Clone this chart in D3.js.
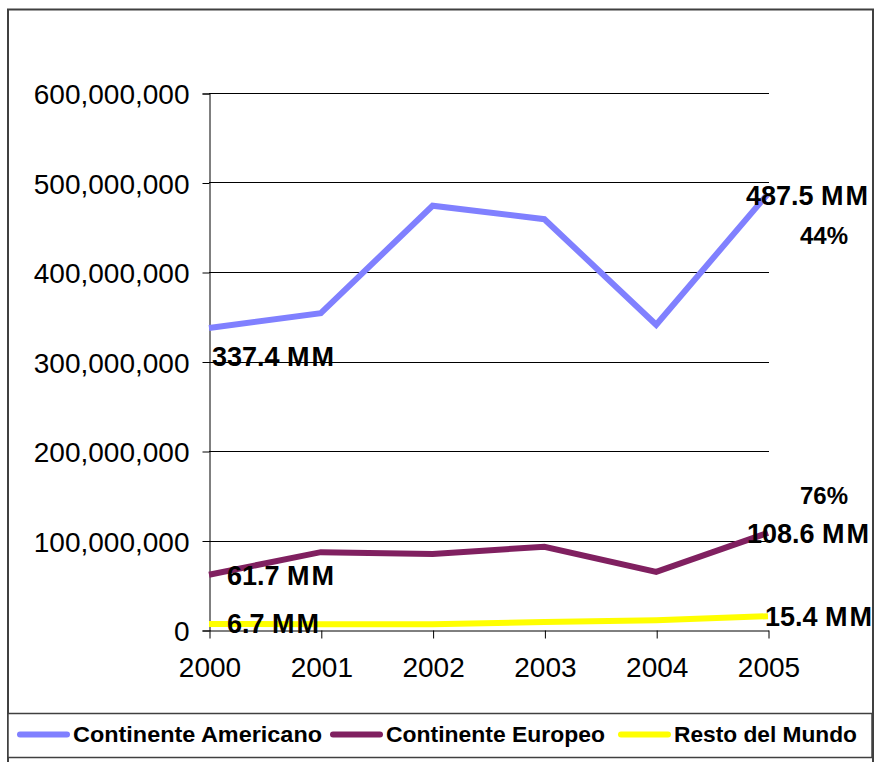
<!DOCTYPE html>
<html><head><meta charset="utf-8">
<script src="https://cdn.jsdelivr.net/npm/d3@7"></script>
<style>html,body{margin:0;padding:0;background:#fff;}svg{display:block;font-family:"Liberation Sans",Arial,sans-serif;}</style>
</head><body>
<svg id="c" width="874" height="762"></svg>
<script>
const years = ["2000","2001","2002","2003","2004","2005"];
const americano = [337.4, 354, 474, 459, 341, 487.5];
const europeo   = [61.7, 87, 85, 93, 65, 108.6];
const resto     = [6.7, 6.5, 6.5, 9, 11, 15.4];
const seriesNames = ["Continente Americano","Continente Europeo","Resto del Mundo"];
const seriesColors = ["#8080FF","#802060","#FFFF00"];
const yTicks = [0,100,200,300,400,500,600];
const startLabels = ["337.4 MM","61.7 MM","6.7 MM"];
const endLabels = ["487.5 MM","108.6 MM","15.4 MM"];
const pctLabels = ["44%","76%"];

const svg = d3.select("#c");
const x = d3.scalePoint().domain(years).range([209, 768]);
const y = d3.scaleLinear().domain([0, 600]).range([630, 93]);

// outer border
svg.append("rect").attr("x",8).attr("y",9.5).attr("width",865).attr("height",770)
  .attr("fill","none").attr("stroke","#404040").attr("stroke-width",2);

// gridlines
svg.append("g").selectAll("line").data(yTicks.filter(d=>d>0)).join("line")
  .attr("x1",209).attr("x2",769).attr("y1",d=>Math.round(y(d))+0.5).attr("y2",d=>Math.round(y(d))+0.5)
  .attr("stroke","#000").attr("stroke-width",1);

// y axis
const yAxis = d3.axisLeft(y).tickValues(yTicks).tickSize(7).tickPadding(13)
  .tickFormat(d => d3.format(",")(d*1000000));
const ga = svg.append("g").attr("transform","translate(209.5,0.5)").call(yAxis);
ga.select(".domain").attr("stroke","#000");
ga.selectAll(".tick line").attr("stroke","#000");
ga.selectAll("text").attr("font-size",28).attr("fill","#000").attr("font-family","Liberation Sans, Arial, sans-serif").attr("dy","0.36em");

// x axis
const xAxis = d3.axisBottom(x).tickSize(8).tickPadding(18).tickSizeOuter(0);
const gx = svg.append("g").attr("transform","translate(0.5,630.5)").call(xAxis);
gx.select(".domain").attr("stroke","#000");
gx.selectAll(".tick line").attr("stroke","#000");
gx.selectAll("text").attr("font-size",28).attr("fill","#000").attr("font-family","Liberation Sans, Arial, sans-serif").attr("dy","0.72em");

// lines
const allSeries = [americano, europeo, resto];
const line = d3.line().x((d,i)=>x(years[i])).y(d=>y(d));
allSeries.forEach((s,k)=>{
  svg.append("path").datum(s).attr("d",line).attr("fill","none")
    .attr("stroke",seriesColors[k]).attr("stroke-width",6).attr("stroke-linejoin","miter");
});

// data labels (second M slightly spaced as in the original)
const lbl = (txt, xx, yy) => {
  const t = svg.append("text").attr("x",xx).attr("y",yy)
    .attr("font-size",27).attr("font-weight","bold").attr("fill","#000");
  t.append("tspan").text(txt.slice(0,-1));
  t.append("tspan").attr("dx",2).text(txt.slice(-1));
};
lbl(startLabels[0], x(years[0])+3, 366);
lbl(startLabels[1], x(years[0])+18, 585);
lbl(startLabels[2], x(years[0])+18, 633);
lbl(endLabels[0], x(years[5])-22, 205);
lbl(endLabels[1], x(years[5])-21, 543);
lbl(endLabels[2], x(years[5])-3, 626);
const pct = (txt, xx, yy) => svg.append("text").attr("x",xx).attr("y",yy)
  .attr("font-size",24).attr("font-weight","bold").attr("fill","#000")
  .attr("text-anchor","middle").text(txt);
pct(pctLabels[0], 824, 244);
pct(pctLabels[1], 824, 504);

// legend
svg.append("rect").attr("x",8).attr("y",713.5).attr("width",864).attr("height",44)
  .attr("fill","#fff").attr("stroke","#404040").attr("stroke-width",1.5);
const legX = [17, 330, 618];
const legW = [249, 219, 183];
seriesNames.forEach((n,k)=>{
  svg.append("line").attr("x1",legX[k]+3).attr("x2",legX[k]+50).attr("y1",734.5).attr("y2",734.5)
    .attr("stroke",seriesColors[k]).attr("stroke-width",6).attr("stroke-linecap","round");
  svg.append("text").attr("x",legX[k]+56).attr("y",742).attr("font-size",22.5)
    .attr("font-weight","bold").attr("fill","#000")
    .attr("textLength",legW[k]).attr("lengthAdjust","spacingAndGlyphs").text(n);
});
</script>
</body></html>
